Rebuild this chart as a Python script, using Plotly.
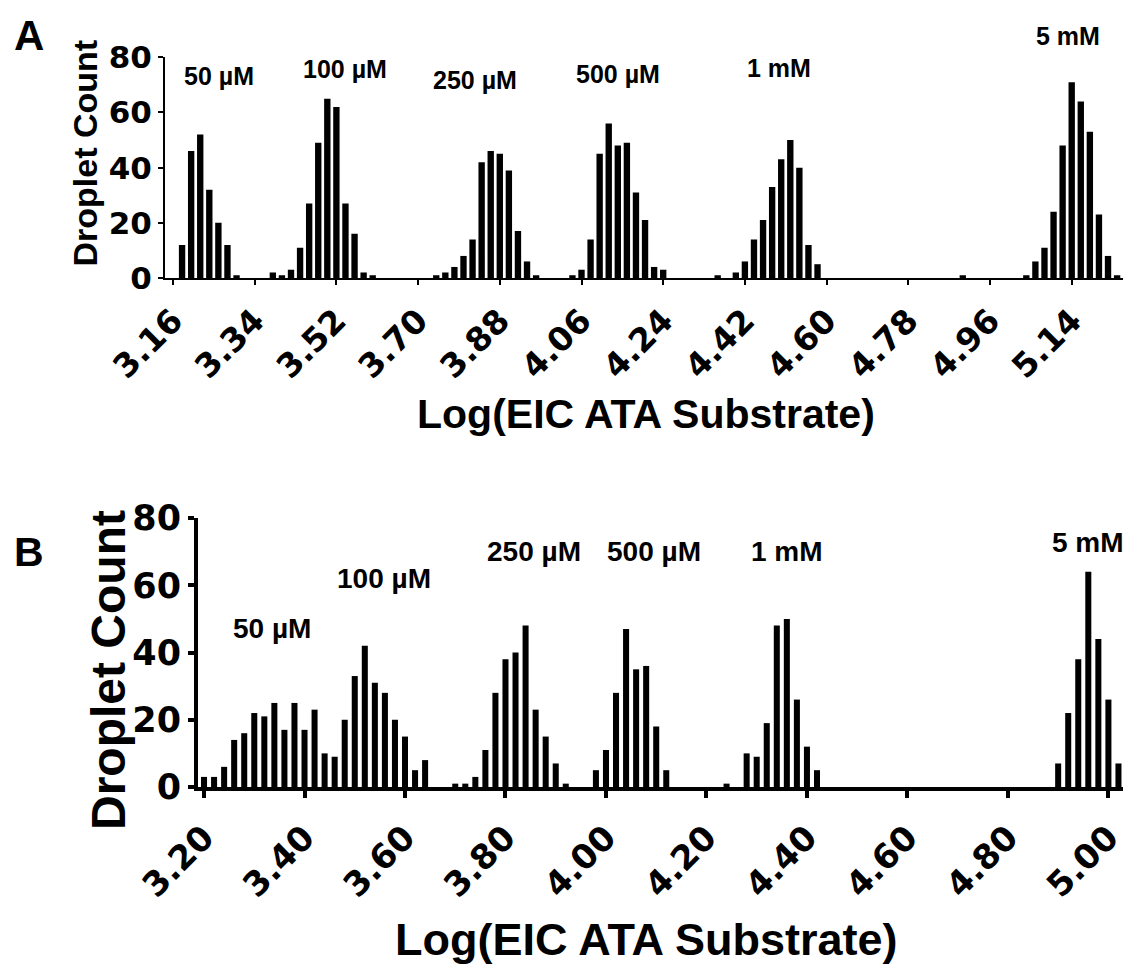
import plotly.graph_objects as go

# ---------------- Panel A data ----------------
a_bins = [3.18, 3.20, 3.22, 3.24, 3.26, 3.28, 3.30,
          3.38, 3.40, 3.42, 3.44, 3.46, 3.48, 3.50, 3.52, 3.54, 3.56, 3.58, 3.60,
          3.74, 3.76, 3.78, 3.80, 3.82, 3.84, 3.86, 3.88, 3.90, 3.92, 3.94, 3.96,
          4.04, 4.06, 4.08, 4.10, 4.12, 4.14, 4.16, 4.18, 4.20, 4.22, 4.24,
          4.36, 4.40, 4.42, 4.44, 4.46, 4.48, 4.50, 4.52, 4.54, 4.56, 4.58,
          4.90,
          5.04, 5.06, 5.08, 5.10, 5.12, 5.14, 5.16, 5.18, 5.20, 5.22, 5.24]
a_counts = [12, 46, 52, 32, 20, 12, 1,
            2, 1, 3, 11, 27, 49, 65, 62, 27, 16, 2, 1,
            1, 2, 4, 8, 14, 42, 46, 45, 39, 17, 6, 1,
            1, 3, 14, 45, 56, 48, 49, 31, 21, 4, 3,
            1, 2, 6, 14, 21, 33, 43, 50, 40, 12, 5,
            1,
            1, 6, 11, 24, 48, 71, 64, 53, 23, 8, 1]
a_ticks = [3.16, 3.34, 3.52, 3.70, 3.88, 4.06, 4.24, 4.42, 4.60, 4.78, 4.96, 5.14]
a_tick_labels = ["3.16", "3.34", "3.52", "3.70", "3.88", "4.06", "4.24",
                 "4.42", "4.60", "4.78", "4.96", "5.14"]
a_conc_labels = ["50 µM", "100 µM", "250 µM", "500 µM", "1 mM", "5 mM"]

# ---------------- Panel B data ----------------
b_bins = [3.20, 3.22, 3.24, 3.26, 3.28, 3.30, 3.32, 3.34, 3.36, 3.38, 3.40, 3.42,
          3.44, 3.46, 3.48, 3.50, 3.52, 3.54, 3.56, 3.58, 3.60, 3.62, 3.64,
          3.70, 3.72, 3.74, 3.76, 3.78, 3.80, 3.82, 3.84, 3.86, 3.88, 3.90, 3.92,
          3.98, 4.00, 4.02, 4.04, 4.06, 4.08, 4.10, 4.12,
          4.24, 4.28, 4.30, 4.32, 4.34, 4.36, 4.38, 4.40, 4.42,
          4.90, 4.92, 4.94, 4.96, 4.98, 5.00, 5.02]
b_counts = [3, 3, 6, 14, 16, 22, 21, 25, 17, 25, 17, 23,
            10, 9, 20, 33, 42, 31, 28, 20, 15, 5, 8,
            1, 1, 3, 11, 28, 38, 40, 48, 23, 15, 7, 1,
            5, 11, 28, 47, 35, 36, 18, 5,
            1, 10, 9, 19, 48, 50, 26, 12, 5,
            7, 22, 38, 64, 44, 26, 7]
b_ticks = [3.20, 3.40, 3.60, 3.80, 4.00, 4.20, 4.40, 4.60, 4.80, 5.00]
b_tick_labels = ["3.20", "3.40", "3.60", "3.80", "4.00", "4.20", "4.40",
                 "4.60", "4.80", "5.00"]
b_conc_labels = ["50 µM", "100 µM", "250 µM", "500 µM", "1 mM", "5 mM"]

y_ticks = [0, 20, 40, 60, 80]
x_title = "Log(EIC ATA Substrate)"
y_title = "Droplet Count"

# page body has an 8px margin: figure is drawn 8px in from the top-left
OFF = 8
W, H = 1131 - OFF, 964 - OFF
WIDE = "DejaVu Sans"
ARIAL = "Liberation Sans, Arial, sans-serif"


def px(x):
    return (x - OFF) / W


def py(y):
    return 1 - (y - OFF) / H


fig = go.Figure()
fig.add_trace(go.Bar(x=a_bins, y=a_counts, width=0.014, marker=dict(color="black", line=dict(width=0)),
                     xaxis="x", yaxis="y", showlegend=False))
fig.add_trace(go.Bar(x=b_bins, y=b_counts, width=0.012, marker=dict(color="black", line=dict(width=0)),
                     xaxis="x2", yaxis="y2", showlegend=False))

axis_common = dict(showgrid=False, zeroline=False, showline=True, linecolor="black",
                   ticks="outside", tickcolor="black", automargin=False)

fig.update_layout(
    template="none",
    width=W, height=H, margin=dict(l=0, r=0, t=0, b=0, pad=0), autosize=False,
    paper_bgcolor="white", plot_bgcolor="white",
    xaxis=dict(domain=[px(165), px(1123)], range=[3.1424, 5.253], anchor="y",
               tickvals=a_ticks, ticktext=a_tick_labels, tickangle=-45,
               linewidth=2, tickwidth=2, ticklen=5, ticklabelstandoff=3,
               tickfont=dict(family=WIDE, size=33, color="black", weight="bold"),
               **axis_common),
    yaxis=dict(domain=[py(278), py(57.3)], range=[0, 80], anchor="x",
               tickvals=y_ticks, linewidth=2, tickwidth=2, ticklen=5,
               tickfont=dict(family=WIDE, size=31, color="black", weight="bold"),
               **axis_common),
    xaxis2=dict(domain=[px(198), px(1128)], range=[3.188, 5.039], anchor="y2",
                tickvals=b_ticks, ticktext=b_tick_labels, tickangle=-45,
                linewidth=4, tickwidth=4, ticklen=7, ticklabelstandoff=6,
                tickfont=dict(family=WIDE, size=34, color="black", weight="bold"),
                **axis_common),
    yaxis2=dict(domain=[py(787), py(518)], range=[0, 80], anchor="x2",
                tickvals=y_ticks, linewidth=4, tickwidth=4, ticklen=6,
                tickfont=dict(family=WIDE, size=35, color="black", weight="bold"),
                **axis_common),
)

ann = []


def text(x, y, s, size, angle=0, family=ARIAL):
    ann.append(dict(x=px(x), y=py(y), xref="paper", yref="paper", text=s, showarrow=False,
                    textangle=angle, xanchor="center", yanchor="middle",
                    font=dict(family=family, size=size, color="black", weight="bold")))


# panel letters
text(29, 35, "A", 42)
text(29, 552, "B", 41)
# axis titles
text(84.5, 153, y_title, 34, -90)
text(646, 414, x_title, 41)
text(108, 670, y_title, 48, -90)
text(646, 939, x_title, 45)

# concentration labels panel A
a_label_pos = [(219, 76), (345, 69), (475, 80), (618, 74), (779, 68), (1068, 36)]
for (x, y), s in zip(a_label_pos, a_conc_labels):
    text(x, y, s, 25)
# concentration labels panel B
b_label_pos = [(272, 628), (384, 578), (534, 551), (654, 551), (787, 551), (1088, 542)]
for (x, y), s in zip(b_label_pos, b_conc_labels):
    text(x, y, s, 28)

fig.update_layout(annotations=ann)
fig.write_html("out.html")
